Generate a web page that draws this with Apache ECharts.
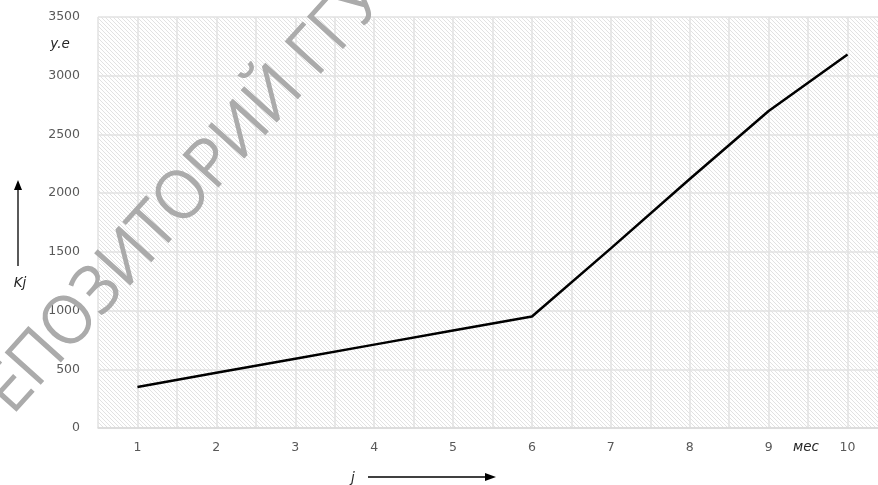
<!DOCTYPE html>
<html>
<head>
<meta charset="utf-8">
<script src="https://cdn.jsdelivr.net/npm/echarts@6/dist/echarts.min.js"></script>
<style>
html,body{margin:0;padding:0;background:#fff;}
#chart{width:878px;height:485px;}
</style>
</head>
<body>
<div id="chart"></div>
<script>
// месяцы и затраты (у.е)
var months = [1, 2, 3, 4, 5, 6, 7, 8, 9, 10];
var costs = [350, 470, 590, 710, 830, 950, 1530, 2120, 2700, 3180];
var yTicks = [0, 500, 1000, 1500, 2000, 2500, 3000, 3500];

var chart = echarts.init(document.getElementById("chart"));

// штриховка фона
function hatch(){
	var c = document.createElement("canvas");
	c.width = 4; c.height = 4;
	var ctx = c.getContext("2d");
	ctx.fillStyle = "#ffffff";
	ctx.fillRect(0, 0, 4, 4);
	ctx.strokeStyle = "#e2e2e2";
	ctx.lineWidth = 1;
	ctx.beginPath();
	ctx.moveTo(-1, -1); ctx.lineTo(5, 5);
	ctx.moveTo(-1, 3); ctx.lineTo(1, 5);
	ctx.moveTo(3, -1); ctx.lineTo(5, 1);
	ctx.stroke();
	return c;
}

var data = [];
for(var i = 0; i < months.length; i++){
	data.push([months[i], costs[i]]);
}

var labelColor = "#595959";
var noteStyle = {fill: "#262626", font: "italic 13.5px 'DejaVu Sans'"};

var option = {
	animation: false,
	grid: {
		show: true,
		left: 98,
		top: 17,
		width: 789,
		bottom: 57,
		outerBoundsMode: "none",
		containLabel: false,
		borderWidth: 0,
		backgroundColor: {image: hatch(), repeat: "repeat"}
	},
	xAxis: {
		type: "value",
		min: 0.5,
		max: 10.5,
		interval: 0.5,
		axisLine: {show: true, lineStyle: {color: "#d9d9d9", width: 1.5}},
		axisTick: {show: false},
		axisLabel: {
			color: labelColor,
			fontFamily: "DejaVu Sans",
			fontSize: 12.5,
			margin: 13,
			formatter: function(v){ return months.indexOf(v) >= 0 ? String(v) : ""; }
		},
		splitLine: {show: true, lineStyle: {color: "#e2e2e2", width: 1.5}}
	},
	yAxis: {
		type: "value",
		min: yTicks[0],
		max: yTicks[yTicks.length - 1],
		interval: 500,
		axisLine: {show: false},
		axisTick: {show: false},
		axisLabel: {
			color: labelColor,
			fontFamily: "DejaVu Sans",
			fontSize: 12.5,
			margin: 18,
			formatter: function(v){ return String(v); }
		},
		splitLine: {show: true, lineStyle: {color: "#e2e2e2", width: 1.5}}
	},
	series: [{
		type: "line",
		data: data,
		symbol: "none",
		z: 5,
		lineStyle: {color: "#000000", width: 2.5}
	}],
	graphic: [
		// водяной знак
		{
			type: "text",
			x: -28, y: 432,
			rotation: 48 * Math.PI / 180,
			z: 1,
			silent: true,
			style: {
				text: "РЕПОЗИТОРИЙ ГГУ ИМЕНИ Ф. СКОРИНЫ",
				fill: "#ababab",
				stroke: "#ababab",
				lineWidth: 1.4,
				font: "300 66px 'Noto Sans'",
				textAlign: "left",
				textVerticalAlign: "middle"
			}
		},
		{type: "text", x: 60, y: 44, z: 10, style: Object.assign({text: "y.e", textAlign: "center", textVerticalAlign: "middle"}, noteStyle)},
		{type: "text", x: 20, y: 283, z: 10, style: Object.assign({text: "Kj", textAlign: "center", textVerticalAlign: "middle"}, noteStyle)},
		{type: "text", x: 806, y: 447, z: 10, style: Object.assign({text: "мес", textAlign: "center", textVerticalAlign: "middle"}, noteStyle)},
		{type: "text", x: 353, y: 478, z: 10, style: Object.assign({text: "j", textAlign: "center", textVerticalAlign: "middle"}, noteStyle)},
		// стрелки
		{type: "line", z: 10, shape: {x1: 18, y1: 266, x2: 18, y2: 188}, style: {stroke: "#000", lineWidth: 1.3}},
		{type: "polygon", z: 10, shape: {points: [[18, 180], [14, 190], [22, 190]]}, style: {fill: "#000"}},
		{type: "line", z: 10, shape: {x1: 368, y1: 477, x2: 487, y2: 477}, style: {stroke: "#000", lineWidth: 1.3}},
		{type: "polygon", z: 10, shape: {points: [[496, 477], [485, 473], [485, 481]]}, style: {fill: "#000"}}
	]
};
chart.setOption(option);
</script>
</body>
</html>
